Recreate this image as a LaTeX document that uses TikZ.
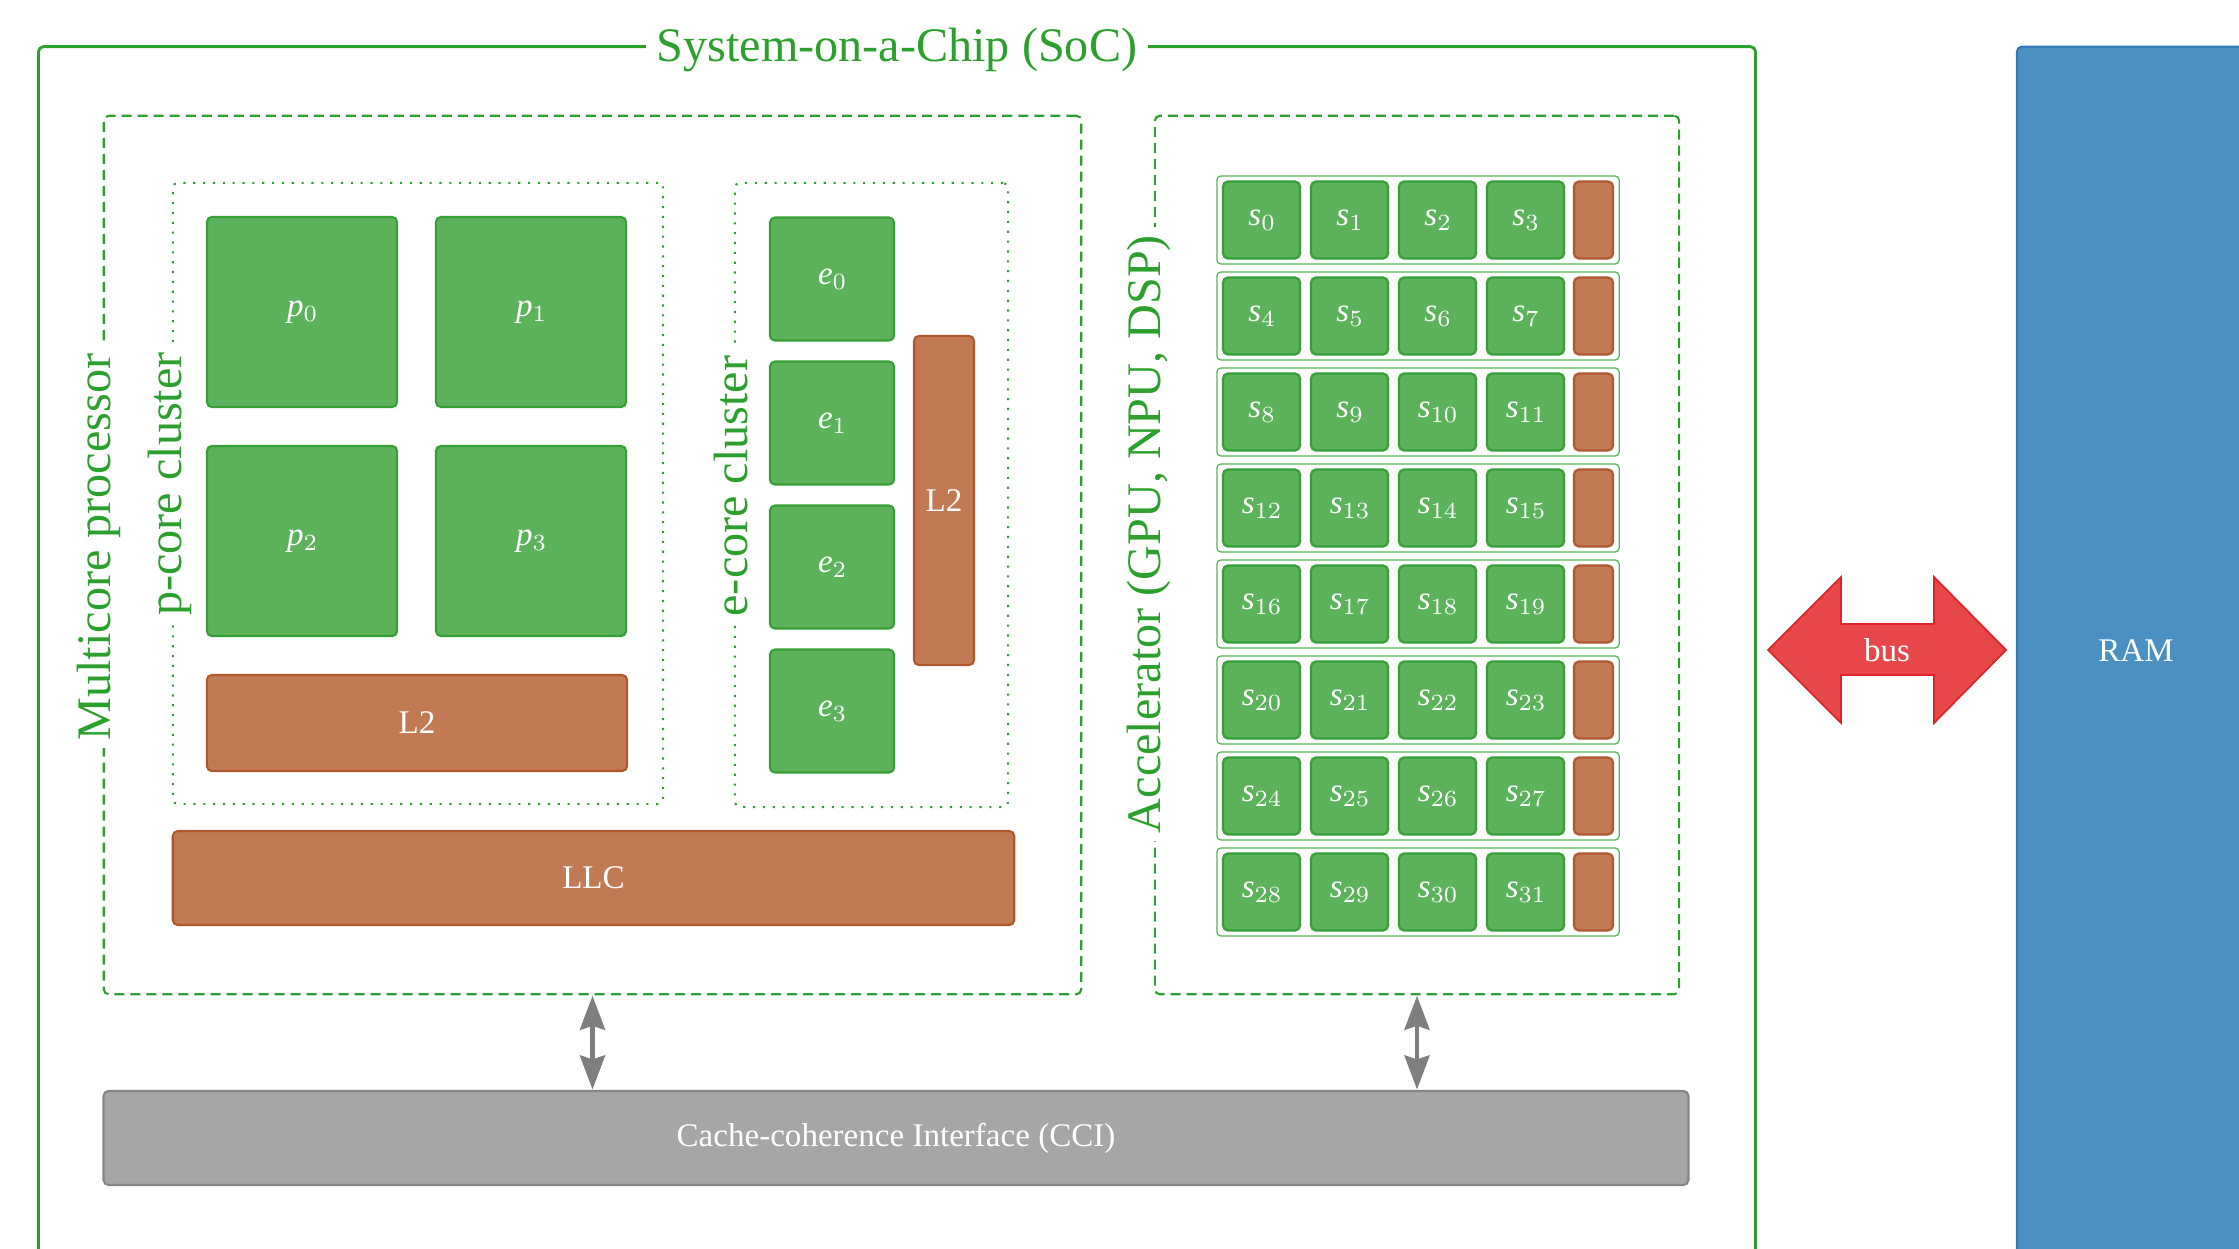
\documentclass[tikz,border=0pt]{standalone}
\usepackage{fontspec}
\setmainfont{Liberation Serif}
\usetikzlibrary{arrows.meta}

\definecolor{socgreen}{HTML}{2CA02C}
\definecolor{corefill}{HTML}{5BB25A}
\definecolor{coreedge}{HTML}{34A034}
\definecolor{cachefill}{HTML}{C17A53}
\definecolor{cacheedge}{HTML}{B0582C}
\definecolor{ccifill}{HTML}{A6A6A6}
\definecolor{cciedge}{HTML}{858585}
\definecolor{ramfill}{HTML}{4A90C2}
\definecolor{ramedge}{HTML}{2E78B8}
\definecolor{busfill}{HTML}{E8474A}
\definecolor{busedge}{HTML}{DE2428}
\definecolor{arrowgray}{HTML}{7F7F7F}

\newcommand\lblfont{\fontsize{9.4}{11}\selectfont}
\newcommand\titlefont{\fontsize{13.7}{16}\selectfont}
% italic letter with a lowered, smaller index
\newcommand\idx[2]{\textit{#1}\raisebox{-0.15em}{\fontfamily{lmr}\fontsize{6.6}{7}\selectfont #2}}

\tikzset{
  box/.style={inner sep=0pt, outer sep=0pt, rounded corners=0.05cm},
  core/.style={box, draw=coreedge, fill=corefill, line width=0.6pt, text=white, font=\lblfont},
  cache/.style={box, draw=cacheedge, fill=cachefill, line width=0.6pt, text=white, font=\lblfont},
  chip/.style={box, draw=socgreen, line width=0.8pt},
  group/.style={box, draw=socgreen, line width=0.6pt, dash pattern=on 0.1cm off 0.06cm},
  cluster/.style={box, draw=socgreen, line width=0.6pt, dash pattern=on 0.6pt off 2.2pt},
  lanebox/.style={box, draw=socgreen!80, line width=0.35pt, rounded corners=0.04cm},
  grouplabel/.style={fill=white, text=socgreen, font=\titlefont, rotate=90, inner xsep=0.08cm, inner ysep=0.02cm},
  ccarrow/.style={draw=arrowgray, line width=1.4pt,
    {Stealth[length=0.34cm,width=0.25cm,inset=0.04cm]}-{Stealth[length=0.34cm,width=0.25cm,inset=0.04cm]},
    shorten <=0.015cm, shorten >=0.015cm},
}

\begin{document}
\begin{tikzpicture}[x=0.01cm, y=-0.01cm]
  \useasboundingbox (0,0) rectangle (2239,1248);
  \clip (0,0) rectangle (2239,1248);

  % chip outline and main groups
  \node[chip, minimum width=17.16cm, minimum height=12.08cm] (soc) at (897,651) {};
  \node[group, minimum width=9.77cm, minimum height=8.78cm] (multi) at (592.5,555) {};
  \node[group, minimum width=5.24cm, minimum height=8.78cm] (accel) at (1417,555) {};
  \node[cluster, minimum width=4.90cm, minimum height=6.21cm] (pclus) at (418,493.5) {};
  \node[cluster, minimum width=2.73cm, minimum height=6.24cm] (eclus) at (871.5,495) {};

  % group labels
  \node[fill=white, text=socgreen, font=\titlefont, inner xsep=0.11cm, inner ysep=0.02cm] (soctitle) at (897,50) {System-on-a-Chip (SoC)};
  \node[grouplabel] (multilabel) at (99,547) {Multicore processor};
  \node[grouplabel] (plabel) at (170,484) {p-core cluster};
  \node[grouplabel] (elabel) at (731,486) {e-core cluster};
  \node[grouplabel] (accellabel) at (1149,534) {Accelerator (GPU, NPU, DSP)};

  % performance cores
  \node[core, minimum width=1.90cm, minimum height=1.90cm] (p0) at (302,312) {\idx{p}{0}};
  \node[core, minimum width=1.90cm, minimum height=1.90cm] (p1) at (531,312) {\idx{p}{1}};
  \node[core, minimum width=1.90cm, minimum height=1.90cm] (p2) at (302,541) {\idx{p}{2}};
  \node[core, minimum width=1.90cm, minimum height=1.90cm] (p3) at (531,541) {\idx{p}{3}};
  \node[cache, minimum width=4.20cm, minimum height=0.96cm] (pl2) at (417,723) {L2};

  % efficiency cores
  \node[core, minimum width=1.24cm, minimum height=1.23cm] (e0) at (832,279) {\idx{e}{0}};
  \node[core, minimum width=1.24cm, minimum height=1.23cm] (e1) at (832,423) {\idx{e}{1}};
  \node[core, minimum width=1.24cm, minimum height=1.23cm] (e2) at (832,567) {\idx{e}{2}};
  \node[core, minimum width=1.24cm, minimum height=1.23cm] (e3) at (832,711) {\idx{e}{3}};
  \node[cache, minimum width=0.60cm, minimum height=3.29cm] (el2) at (944,500.5) {L2};

  % last-level cache
  \node[cache, minimum width=8.41cm, minimum height=0.94cm] (llc) at (593.5,878) {LLC};

  % accelerator lanes: four shader cores and a local cache each
  \foreach \r in {0,...,7} {
    \pgfmathsetmacro\yc{220+96*\r}
    \node[lanebox, minimum width=4.02cm, minimum height=0.88cm] (lane\r) at (1418,\yc) {};
    \foreach \c in {0,...,3} {
      \pgfmathtruncatemacro\k{4*\r+\c}
      \node[core, minimum width=0.77cm, minimum height=0.77cm] (s\k) at ({1261.5+88*\c},\yc) {\idx{s}{\k}};
    }
    \node[cache, minimum width=0.39cm, minimum height=0.77cm] (sc\r) at (1593.5,\yc) {};
  }

  % coherence interconnect
  \node[box, draw=cciedge, fill=ccifill, line width=0.6pt, minimum width=15.84cm, minimum height=0.94cm,
        text=white, font=\lblfont] (cci) at (896,1138) {Cache-coherence Interface (CCI)};
  \draw[ccarrow] (multi.south) -- (multi.south |- cci.north);
  \draw[ccarrow] (accel.south) -- (accel.south |- cci.north);

  % main memory and the bus to it
  \node[box, draw=ramedge, fill=ramfill, line width=0.6pt, minimum width=2.38cm, minimum height=12.08cm,
        text=white, font=\lblfont] (ram) at (2136,651) {RAM};
  \path[draw=busedge, fill=busfill, line width=0.5pt]
    (1768,650) -- (1841,577) -- (1841,624) -- (1934,624) -- (1934,577) -- (2006,650)
    -- (1934,723) -- (1934,675) -- (1841,675) -- (1841,723) -- cycle;
  \node[text=white, font=\lblfont] (bus) at (1887,650) {bus};
\end{tikzpicture}
\end{document}
